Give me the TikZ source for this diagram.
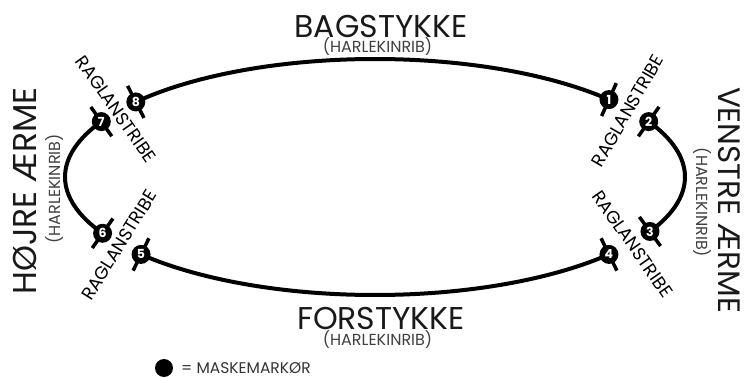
\documentclass[tikz,border=0pt]{standalone}
\usepackage{fontspec}
\setmainfont{Poppins}
\usetikzlibrary{backgrounds,calc}
\begin{document}
\begin{tikzpicture}[x=1pt,y=1pt,
  ring/.style={line width=4pt},
  tickline/.style={line width=3.5pt},
  marker/.style={circle,fill=black,inner sep=0pt,minimum size=19pt,text=white,
    font=\bfseries\fontsize{12.5}{12.5}\selectfont},
  title/.style={inner sep=0pt,text=black!90,font=\fontsize{31.5}{32}\selectfont},
  sidetitle/.style={inner sep=0pt,text=black!90,font=\fontsize{#1}{34}\selectfont},
  sub/.style={inner sep=0pt,text=black!75,font=\fontsize{16}{16}\selectfont},
  raglan/.style={inner sep=0pt,text=black,font=\fontsize{18}{18}\selectfont},
  legend/.style={inner sep=0pt,text=black!80,font=\fontsize{15.5}{16}\selectfont}]
\useasboundingbox (0,0) rectangle (745,378);
\coordinate (c) at (375,201);
% markers on the ellipse
\foreach \n/\t in {1/41,2/28,3/-27.5,4/-41,5/221,6/208.5,7/152,8/140.5}
  \node[marker] (m\n) at ($(c)+(\t:310 and 118)$) {\n};
\begin{scope}[on background layer]
  \draw[ring] (m8.center) arc[start angle=140.5,end angle=41,x radius=310,y radius=118];
  \draw[ring] (m2.center) arc[start angle=28,end angle=-27.5,x radius=310,y radius=118];
  \draw[ring] (m4.center) arc[start angle=-41,end angle=-139,x radius=310,y radius=118];
  \draw[ring] (m6.center) arc[start angle=208.5,end angle=152,x radius=310,y radius=118];
  \foreach \n/\a in {1/66,2/55,3/126,4/116,5/64,6/55,7/125.6,8/117}
    \draw[tickline] (m\n.center) ++(\a:18) -- ++(\a+180:36);
\end{scope}
% titles
\node[title] (bag) at (381,352) {BAGSTYKKE};
\node[sub] (bagsub) at (377.5,331) {(HARLEKINRIB)};
\node[title] (for) at (381,60) {FORSTYKKE};
\node[sub] (forsub) at (377.5,38.5) {(HARLEKINRIB)};
\node[sidetitle=33,rotate=90] (hoj) at (25,187) {HØJRE ÆRME};
\node[sub,rotate=90] (hojsub) at (55,189) {(HARLEKINRIB)};
\node[sidetitle=31,rotate=-90] (ven) at (729.5,178) {VENSTRE ÆRME};
\node[sub,rotate=-90] (vensub) at (702,175.5) {(HARLEKINRIB)};
% raglan labels
\node[raglan,rotate=-55] (r1) at (116,269) {RAGLANSTRIBE};
\node[raglan,rotate=58] (r2) at (119.2,133) {RAGLANSTRIBE};
\node[raglan,rotate=60] (r3) at (627.5,267.2) {RAGLANSTRIBE};
\node[raglan,rotate=-55] (r4) at (632.5,134) {RAGLANSTRIBE};
% legend
\node[circle,fill=black,minimum size=18pt,inner sep=0pt] (leg) at (164,10) {};
\node[legend,anchor=west] (legtxt) at (181,9.5) {= MASKEMARKØR};
\end{tikzpicture}
\end{document}
